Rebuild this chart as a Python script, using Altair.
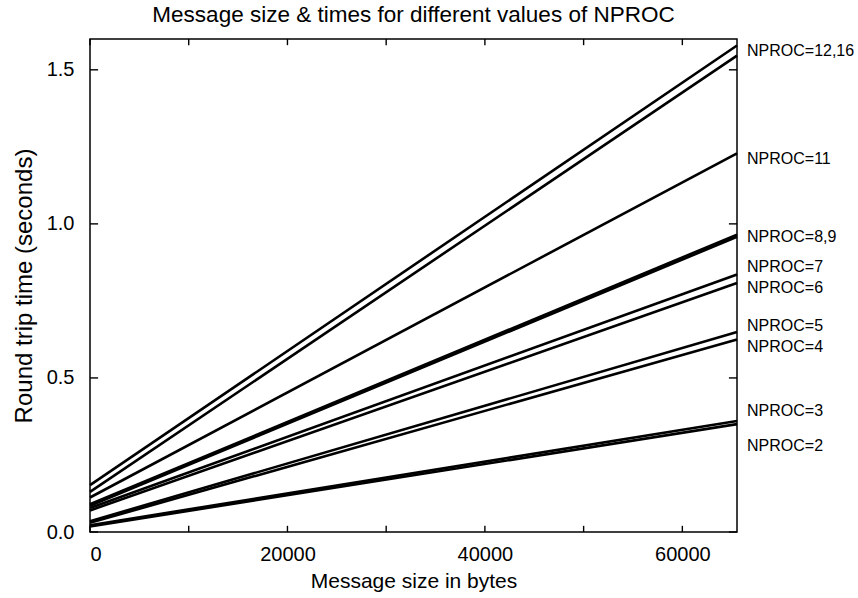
import altair as alt
import pandas as pd

# ---- data ----
nproc = ["2", "3", "4", "5", "6", "7", "8", "9", "11", "12", "16"]
time_at_0 = [0.018, 0.022, 0.030, 0.035, 0.070, 0.078, 0.085, 0.090, 0.112, 0.130, 0.152]
time_at_max = [0.350, 0.360, 0.625, 0.649, 0.808, 0.836, 0.958, 0.965, 1.229, 1.546, 1.579]
size_points = [0, 65536]

label_text = ["NPROC=12,16", "NPROC=11", "NPROC=8,9", "NPROC=7", "NPROC=6",
              "NPROC=5", "NPROC=4", "NPROC=3", "NPROC=2"]
label_time = [1.562, 1.212, 0.959, 0.860, 0.792, 0.668, 0.599, 0.393, 0.280]

x_ticks_major = [0, 20000, 40000, 60000]
x_ticks_all = [0, 10000, 20000, 30000, 40000, 50000, 60000]
y_ticks = [0.0, 0.5, 1.0, 1.5]
x_domain = [0, 65536]
y_domain = [0, 1.6]

rows = []
for n, a, b in zip(nproc, time_at_0, time_at_max):
    rows.append({"nproc": n, "msg": size_points[0], "rtt": a})
    rows.append({"nproc": n, "msg": size_points[1], "rtt": b})
df = pd.DataFrame(rows)
lab = pd.DataFrame({"label": label_text, "rtt": label_time,
                    "msg": [size_points[1]] * len(label_text)})

# inward tick lengths in data units (about 6 px each)
ty = 0.02 * (y_domain[1] - y_domain[0]) / 1.6
tx = 0.0125 * (x_domain[1] - x_domain[0])
vt = pd.DataFrame(
    [{"msg": v, "r1": y_domain[0], "r2": y_domain[0] + ty} for v in x_ticks_all]
    + [{"msg": v, "r1": y_domain[1], "r2": y_domain[1] - ty} for v in x_ticks_all])
ht = pd.DataFrame(
    [{"rtt": v, "m1": x_domain[0], "m2": x_domain[0] + tx} for v in y_ticks]
    + [{"rtt": v, "m1": x_domain[1], "m2": x_domain[1] - tx} for v in y_ticks])

W, H = 647, 493
FONT = "Liberation Sans"
xscale = alt.Scale(domain=x_domain, nice=False, zero=False)
yscale = alt.Scale(domain=y_domain, nice=False)

lines = alt.Chart(df).mark_line(color="black", strokeWidth=2.6).encode(
    x=alt.X("msg:Q", scale=xscale,
            axis=alt.Axis(values=x_ticks_major, format="d", ticks=False, domain=False,
                          grid=False, labelFontSize=20, labelPadding=12,
                          title="Message size in bytes", titleFontSize=21,
                          titlePadding=6, titleFontWeight="normal")),
    y=alt.Y("rtt:Q", scale=yscale,
            axis=alt.Axis(values=y_ticks, format=".1f", ticks=False, domain=False,
                          grid=False, labelFontSize=20, labelPadding=16,
                          title="Round trip time (seconds)", titleFontSize=24,
                          titlePadding=10, titleFontWeight="normal")),
    detail="nproc:N",
)

labels = alt.Chart(lab).mark_text(align="left", baseline="middle", dx=10,
                                  fontSize=16, font=FONT, color="black").encode(
    x=alt.X("msg:Q", scale=xscale),
    y=alt.Y("rtt:Q", scale=yscale),
    text="label:N",
)

vticks = alt.Chart(vt).mark_rule(color="black", strokeWidth=1.4).encode(
    x=alt.X("msg:Q", scale=xscale),
    y=alt.Y("r1:Q", scale=yscale),
    y2="r2:Q",
)
hticks = alt.Chart(ht).mark_rule(color="black", strokeWidth=1.4).encode(
    y=alt.Y("rtt:Q", scale=yscale),
    x=alt.X("m1:Q", scale=xscale),
    x2="m2:Q",
)

chart = alt.layer(lines, labels, vticks, hticks).properties(
    width=W, height=H,
    title=alt.TitleParams("Message size & times for different values of NPROC",
                          fontSize=22.5, font=FONT, fontWeight="normal",
                          anchor="middle", offset=12, color="black"),
    autosize=alt.AutoSizeParams(type="none"),
    padding={"left": 90, "top": 39, "right": 121, "bottom": 66},
).configure(
    font=FONT,
).configure_axis(
    labelColor="black", titleColor="black", labelFont=FONT, titleFont=FONT,
).configure_view(
    stroke="black", strokeWidth=1.5,
)

chart.save("out.html", embed_options={"renderer": "svg", "actions": False})
